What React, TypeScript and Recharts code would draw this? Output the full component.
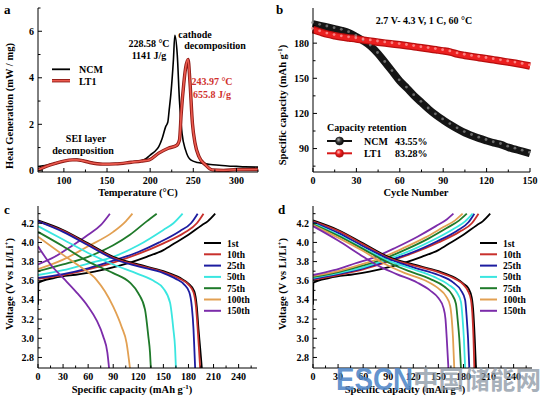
import React from 'react';
import { LineChart, Line, XAxis, YAxis } from 'recharts';

const FONT = '"Liberation Serif", "Times New Roman", serif';

// ---------- Panel a: DSC ----------
const aNcmT = [70, 80, 90, 100, 110, 115, 120, 130, 145, 160, 175, 190, 195, 200, 205, 210, 214, 218, 220.5, 222, 224, 227, 228.58, 231.4, 234, 237, 241, 247, 255, 262, 270, 280, 290, 300, 310, 325];
const aNcmV = [0.18, 0.24, 0.32, 0.41, 0.48, 0.5, 0.48, 0.38, 0.3, 0.31, 0.36, 0.44, 0.52, 0.68, 0.82, 1.04, 1.4, 1.9, 2.1, 2.6, 3.3, 4.8, 5.83, 5.0, 3.0, 1.6, 0.9, 0.47, 0.36, 0.32, 0.27, 0.24, 0.21, 0.19, 0.17, 0.16];
const aLtT = [70, 80, 90, 100, 110, 115, 120, 130, 145, 160, 178, 190, 199, 210, 221, 231, 234, 236, 239, 241, 243.97, 246, 249, 252, 256.6, 264, 272, 285, 300, 325];
const aLtV = [0.04, 0.2, 0.32, 0.42, 0.47, 0.47, 0.45, 0.36, 0.29, 0.3, 0.37, 0.42, 0.47, 0.76, 0.97, 1.1, 1.33, 2.47, 3.76, 4.4, 4.79, 3.9, 2.04, 1.19, 0.61, 0.26, 0.04, 0.02, 0.05, 0.06];

// ---------- Panel b: cycling ----------
const bCycles = [0, 5, 10, 15, 20, 25, 30, 35, 40, 45, 50, 55, 60, 65, 70, 75, 80, 85, 90, 95, 100, 105, 110, 115, 120, 125, 130, 135, 140, 145, 150];
const bNcm = [196.5, 195, 193.6, 192.2, 190.8, 188.8, 185.5, 181.8, 177.3, 171, 163.3, 155.6, 147.7, 141.5, 135, 129.3, 123.6, 118.6, 114.3, 110.3, 106.7, 103.5, 101, 98.7, 96.7, 94.8, 93.3, 91, 89.3, 87.6, 85.8];
const bLt1 = [191.5, 189.5, 187.6, 186.3, 185.2, 184.4, 183.6, 182.6, 181.7, 180.8, 180, 179.3, 178.6, 177.8, 176.9, 176, 175.2, 174.3, 173.4, 172.3, 170.6, 169.5, 168.5, 167.6, 166.7, 165.7, 164.7, 163.8, 162.8, 161.7, 160.5];

// ---------- Cycle labels & colours ----------
const cycleNames = ['1st', '10th', '25th', '50th', '75th', '100th', '150th'];
const cycleColors = ['#000000', '#c8302c', '#1c1ca0', '#3ae6e0', '#1f7a2a', '#e2a052', '#7c2caa'];

// ---------- Panel c: NCM charge/discharge ----------
const cChX = [
  [0, 0.5, 20, 50, 80, 110, 130, 150, 165, 180, 196, 203, 212],
  [0, 30, 60, 90, 120, 150, 175, 190, 198],
  [0, 30, 60, 90, 120, 145, 170, 183, 191],
  [0, 30, 60, 90, 120, 150, 162, 173],
  [0, 30, 60, 90, 110, 130, 142],
  [0, 30, 60, 90, 105, 113],
  [0, 20, 40, 60, 75, 86],
];
const cChV = [
  [3.35, 3.58, 3.63, 3.67, 3.72, 3.79, 3.85, 3.92, 4.0, 4.08, 4.18, 4.22, 4.3],
  [3.62, 3.66, 3.72, 3.79, 3.88, 3.99, 4.1, 4.2, 4.3],
  [3.63, 3.67, 3.73, 3.81, 3.9, 4.0, 4.12, 4.2, 4.3],
  [3.66, 3.71, 3.78, 3.85, 3.97, 4.13, 4.2, 4.3],
  [3.7, 3.77, 3.85, 3.97, 4.08, 4.22, 4.3],
  [3.72, 3.82, 3.96, 4.11, 4.22, 4.3],
  [3.77, 3.85, 3.96, 4.08, 4.18, 4.3],
];
const cDisX = [
  [0, 30, 60, 90, 120, 150, 170, 180, 187, 190, 192, 194, 196],
  [0, 30, 60, 90, 120, 150, 170, 180, 186, 189, 191, 192.5, 194],
  [0, 30, 60, 90, 120, 150, 165, 175, 181, 184, 186, 187, 188],
  [0, 30, 60, 90, 120, 140, 150, 158, 162, 164, 165],
  [0, 30, 60, 90, 110, 120, 128, 132, 134, 135],
  [0, 30, 50, 70, 80, 90, 100, 106, 110],
  [0, 15, 30, 45, 60, 70, 78, 83, 85],
];
const cDisV = [
  [4.23, 4.13, 3.99, 3.85, 3.77, 3.7, 3.63, 3.57, 3.49, 3.33, 3.1, 2.9, 2.69],
  [4.22, 4.12, 3.98, 3.84, 3.76, 3.69, 3.62, 3.56, 3.48, 3.33, 3.1, 2.9, 2.69],
  [4.22, 4.11, 3.97, 3.83, 3.75, 3.68, 3.62, 3.56, 3.48, 3.33, 3.1, 2.9, 2.69],
  [4.17, 4.03, 3.89, 3.77, 3.67, 3.59, 3.52, 3.37, 3.09, 2.9, 2.69],
  [4.11, 3.96, 3.8, 3.68, 3.58, 3.47, 3.3, 3.02, 2.85, 2.69],
  [4.06, 3.87, 3.75, 3.61, 3.49, 3.33, 3.12, 2.95, 2.69],
  [3.96, 3.77, 3.63, 3.49, 3.33, 3.19, 3.02, 2.85, 2.69],
];

// ---------- Panel d: LT1 charge/discharge ----------
const dChX = [
  [0, 0.5, 20, 50, 80, 110, 130, 150, 165, 180, 196, 203, 212],
  [0, 30, 60, 90, 120, 150, 175, 190, 198],
  [0, 30, 60, 90, 120, 148, 172, 186, 193],
  [0, 30, 60, 88, 118, 145, 168, 182, 191],
  [0, 30, 60, 85, 112, 138, 160, 175, 184],
  [0, 30, 58, 82, 108, 134, 156, 170, 179],
  [0, 25, 50, 75, 100, 125, 147, 160, 168],
];
const dChV = [
  [3.35, 3.58, 3.63, 3.67, 3.72, 3.79, 3.85, 3.92, 4.0, 4.08, 4.18, 4.22, 4.3],
  [3.61, 3.66, 3.72, 3.8, 3.89, 4.0, 4.11, 4.2, 4.3],
  [3.62, 3.67, 3.73, 3.81, 3.9, 4.01, 4.12, 4.21, 4.3],
  [3.63, 3.68, 3.74, 3.82, 3.92, 4.03, 4.14, 4.22, 4.3],
  [3.64, 3.69, 3.76, 3.83, 3.93, 4.04, 4.15, 4.23, 4.3],
  [3.65, 3.7, 3.77, 3.84, 3.94, 4.05, 4.16, 4.23, 4.3],
  [3.66, 3.71, 3.78, 3.85, 3.95, 4.06, 4.17, 4.24, 4.3],
];
const dDisX = [
  [0, 30, 60, 90, 120, 150, 170, 180, 186, 190, 192, 193.5, 195],
  [0, 30, 60, 90, 120, 150, 170, 180, 185, 189, 191, 192, 193],
  [0, 30, 60, 90, 120, 150, 168, 177, 182, 184, 185.5, 187],
  [0, 30, 60, 90, 120, 145, 162, 172, 177, 179, 180.5, 182],
  [0, 30, 60, 90, 115, 140, 157, 166, 171, 173, 175, 177],
  [0, 30, 60, 85, 110, 135, 150, 159, 164, 166, 167.5, 169],
  [0, 30, 55, 75, 100, 125, 140, 150, 156, 158.5, 160, 162],
];
const dDisV = [
  [4.23, 4.13, 3.99, 3.85, 3.77, 3.7, 3.63, 3.57, 3.52, 3.42, 3.25, 3.0, 2.69],
  [4.22, 4.12, 3.98, 3.84, 3.76, 3.69, 3.62, 3.56, 3.5, 3.4, 3.2, 3.0, 2.69],
  [4.21, 4.1, 3.96, 3.83, 3.74, 3.66, 3.58, 3.5, 3.4, 3.2, 3.0, 2.69],
  [4.2, 4.08, 3.94, 3.81, 3.72, 3.64, 3.56, 3.48, 3.38, 3.2, 3.0, 2.69],
  [4.19, 4.07, 3.93, 3.79, 3.7, 3.62, 3.54, 3.46, 3.36, 3.2, 3.0, 2.69],
  [4.18, 4.05, 3.91, 3.78, 3.68, 3.6, 3.52, 3.44, 3.34, 3.2, 3.0, 2.69],
  [4.17, 4.02, 3.88, 3.77, 3.67, 3.58, 3.5, 3.42, 3.32, 3.2, 3.0, 2.69],
];

// ---------- Axis ticks ----------
const aXMajor = [100, 150, 200, 250, 300];
const aXMinor = [75, 125, 175, 225, 275, 325];
const aYMajor = [0, 2, 4, 6];
const aYMinor = [1, 3, 5, 7];
const bXMajor = [0, 30, 60, 90, 120, 150];
const bXMinor = [15, 45, 75, 105, 135];
const bYMajor = [90, 120, 150, 180];
const bYMinor = [75, 105, 135, 165, 195];
const cdXMajor = [0, 30, 60, 90, 120, 150, 180, 210, 240];
const cdXMinor = [15, 45, 75, 105, 135, 165, 195, 225, 255];
const cdYMajor = [2.8, 3.0, 3.2, 3.4, 3.6, 3.8, 4.0, 4.2];
const cdYMinor = [2.9, 3.1, 3.3, 3.5, 3.7, 3.9, 4.1, 4.3];

const pts = (xs: number[], ys: number[]) => xs.map((x, i) => ({ x, y: ys[i] }));

const isIn = (arr: number[], v: number) => arr.some((m) => Math.abs(m - v) < 1e-6);

const makeXTick = (majors: number[], fmt?: (v: number) => string) => (props: any) => {
  const { x, y, payload } = props;
  const v = payload.value;
  const major = isIn(majors, v);
  return (
    <g>
      <line x1={x} x2={x} y1={y} y2={y - (major ? 4 : 2.5)} stroke="#000" strokeWidth={1} />
      {major && (
        <text x={x} y={y + 11.5} textAnchor="middle" fontFamily={FONT} fontWeight="bold" fontSize={10} fill="#000">
          {fmt ? fmt(v) : String(v)}
        </text>
      )}
    </g>
  );
};

const makeYTick = (majors: number[], fmt?: (v: number) => string) => (props: any) => {
  const { x, y, payload } = props;
  const v = payload.value;
  const major = isIn(majors, v);
  return (
    <g>
      <line x1={x} x2={x + (major ? 4 : 2.5)} y1={y} y2={y} stroke="#000" strokeWidth={1} />
      {major && (
        <text x={x - 4} y={y + 3.5} textAnchor="end" fontFamily={FONT} fontWeight="bold" fontSize={10} fill="#000">
          {fmt ? fmt(v) : String(v)}
        </text>
      )}
    </g>
  );
};

const fmt1 = (v: number) => v.toFixed(1);

const blackDot = (p: any) => (
  <circle key={`bd${p.index}`} cx={p.cx - 0.6} cy={p.cy - 1.2} r={1.4} fill="#8a8a8a" fillOpacity={0.75} />
);
const redDot = (p: any) => (
  <circle key={`rd${p.index}`} cx={p.cx - 0.6} cy={p.cy - 1.2} r={1.4} fill="#ff9a9a" fillOpacity={0.8} />
);

const frameAxes = (xd: number[], yd: number[]) => [
  <XAxis key="xt" xAxisId="top" orientation="top" type="number" domain={xd} height={0} tick={false} tickLine={false} axisLine={{ stroke: '#000', strokeWidth: 1 }} />,
  <YAxis key="yr" yAxisId="right" orientation="right" type="number" domain={yd} width={0} tick={false} tickLine={false} axisLine={{ stroke: '#000', strokeWidth: 1 }} />,
];

function PanelA() {
  return (
    <LineChart width={272} height={199} margin={{ top: 8, right: 14, bottom: 0, left: 0 }}>
      <XAxis dataKey="x" type="number" domain={[70, 325]} ticks={[...aXMajor, ...aXMinor].sort((a, b) => a - b)} interval={0} height={27} tickSize={0} tickMargin={0} tickLine={false} axisLine={{ stroke: '#000' }} tick={makeXTick(aXMajor)} allowDataOverflow />
      <YAxis type="number" domain={[-0.05, 7]} ticks={[...aYMajor, ...aYMinor].sort((a, b) => a - b)} interval={0} width={38} tickSize={0} tickMargin={0} tickLine={false} axisLine={{ stroke: '#000' }} tick={makeYTick(aYMajor)} allowDataOverflow />
      {frameAxes([70, 325], [-0.05, 7])}
      <Line data={pts(aNcmT, aNcmV)} dataKey="y" type="monotone" stroke="#000" strokeWidth={1.6} dot={false} isAnimationActive={false} />
      <Line data={pts(aLtT, aLtV)} dataKey="y" type="monotone" stroke="#8e1a16" strokeWidth={3.4} dot={false} isAnimationActive={false} />
      <Line data={pts(aLtT, aLtV)} dataKey="y" type="monotone" stroke="#ec5a4e" strokeWidth={1.6} dot={false} isAnimationActive={false} />
    </LineChart>
  );
}

function PanelB() {
  return (
    <LineChart width={272} height={199} margin={{ top: 8, right: 14, bottom: 0, left: 0 }}>
      <XAxis dataKey="x" type="number" domain={[0, 150]} ticks={[...bXMajor, ...bXMinor].sort((a, b) => a - b)} interval={0} height={27} tickSize={0} tickMargin={0} tickLine={false} axisLine={{ stroke: '#000' }} tick={makeXTick(bXMajor)} />
      <YAxis type="number" domain={[70, 210]} ticks={[...bYMajor, ...bYMinor].sort((a, b) => a - b)} interval={0} width={41} tickSize={0} tickMargin={0} tickLine={false} axisLine={{ stroke: '#000' }} tick={makeYTick(bYMajor)} />
      {frameAxes([0, 150], [70, 210])}
      <Line data={pts(bCycles, bNcm)} dataKey="y" type="monotone" stroke="#151515" strokeWidth={7.5} dot={blackDot} isAnimationActive={false} />
      <Line data={pts(bCycles, bLt1)} dataKey="y" type="monotone" stroke="#b80e0e" strokeWidth={7.5} dot={false} isAnimationActive={false} />
      <Line data={pts(bCycles, bLt1)} dataKey="y" type="monotone" stroke="#ec2020" strokeWidth={5} dot={redDot} isAnimationActive={false} />
    </LineChart>
  );
}

function PanelCD({ chX, chV, disX, disV, yW, rightM }: any) {
  return (
    <LineChart width={272} height={199} margin={{ top: 8, right: rightM, bottom: 0, left: 0 }}>
      <XAxis dataKey="x" type="number" domain={[0, 262]} ticks={[...cdXMajor, ...cdXMinor].sort((a, b) => a - b)} interval={0} height={29} tickSize={0} tickMargin={0} tickLine={false} axisLine={{ stroke: '#000' }} tick={makeXTick(cdXMajor)} allowDataOverflow />
      <YAxis type="number" domain={[2.69, 4.38]} ticks={[...cdYMajor, ...cdYMinor].sort((a, b) => a - b)} interval={0} width={yW} tickSize={0} tickMargin={0} tickLine={false} axisLine={{ stroke: '#000' }} tick={makeYTick(cdYMajor, fmt1)} allowDataOverflow />
      {frameAxes([0, 262], [2.69, 4.38])}
      {cycleNames.map((n, i) => (
        <Line key={`ch${n}`} data={pts(chX[i], chV[i])} dataKey="y" type="monotone" stroke={cycleColors[i]} strokeWidth={1.8} dot={false} isAnimationActive={false} />
      ))}
      {cycleNames.map((n, i) => (
        <Line key={`dis${n}`} data={pts(disX[i], disV[i])} dataKey="y" type="monotone" stroke={cycleColors[i]} strokeWidth={1.8} dot={false} isAnimationActive={false} />
      ))}
    </LineChart>
  );
}

const T = (p: any) => <text fontFamily={FONT} fontWeight="bold" fill="#000" {...p} />;

function Overlay() {
  const legendRows = [243, 254.3, 265.6, 276.9, 288.2, 299.5, 310.8];
  return (
    <svg width={544} height={397} style={{ position: 'absolute', left: 0, top: 0, pointerEvents: 'none' }}>
      <defs>
        <radialGradient id="gBlack" cx="38%" cy="35%" r="65%">
          <stop offset="0%" stopColor="#bdbdbd" />
          <stop offset="45%" stopColor="#3a3a3a" />
          <stop offset="100%" stopColor="#050505" />
        </radialGradient>
        <radialGradient id="gRed" cx="38%" cy="35%" r="65%">
          <stop offset="0%" stopColor="#ffc4c4" />
          <stop offset="45%" stopColor="#f02020" />
          <stop offset="100%" stopColor="#a80c0c" />
        </radialGradient>
      </defs>
      {/* panel letters */}
      <T x={4} y={14} fontSize={13}>a</T>
      <T x={276} y={14} fontSize={13}>b</T>
      <T x={4} y={214} fontSize={13}>c</T>
      <T x={278} y={214} fontSize={13}>d</T>

      {/* panel a */}
      <T x={138} y={196} fontSize={10.5} textAnchor="middle">Temperature (°C)</T>
      <T x={13} y={106} fontSize={10.5} textAnchor="middle" transform="rotate(-90 13 106)">Heat Generation (mW / mg)</T>
      <line x1={52} x2={70} y1={69.3} y2={69.3} stroke="#000" strokeWidth={1.8} />
      <line x1={52} x2={70} y1={80.7} y2={80.7} stroke="#8e1a16" strokeWidth={3.4} />
      <line x1={52} x2={70} y1={80.7} y2={80.7} stroke="#ec5a4e" strokeWidth={1.6} />
      <T x={79} y={73} fontSize={10}>NCM</T>
      <T x={79} y={84.5} fontSize={10}>LT1</T>
      <T x={149} y={47} fontSize={10} textAnchor="middle">228.58 °C</T>
      <T x={149} y={59} fontSize={10} textAnchor="middle">1141 J/g</T>
      <T x={195} y={37.5} fontSize={10} textAnchor="middle">cathode</T>
      <T x={215} y={49} fontSize={10} textAnchor="middle">decomposition</T>
      <T x={212} y={84.5} fontSize={10} textAnchor="middle" fill="#d0312d">243.97 °C</T>
      <T x={212} y={97.5} fontSize={10} textAnchor="middle" fill="#d0312d">655.8 J/g</T>
      <T x={86} y={142} fontSize={10} textAnchor="middle">SEI layer</T>
      <T x={83} y={154} fontSize={10} textAnchor="middle">decomposition</T>

      {/* panel b */}
      <T x={416} y={196} fontSize={10.5} textAnchor="middle">Cycle Number</T>
      <T x={286} y={105} fontSize={10.5} textAnchor="middle" transform="rotate(-90 286 105)">
        Specific capacity (mAh g<tspan fontSize={7} dy={-4}>-1</tspan><tspan dy={4}>)</tspan>
      </T>
      <T x={424} y={24} fontSize={10} textAnchor="middle">2.7 V- 4.3 V, 1 C, 60 °C</T>
      <T x={327} y={131} fontSize={10}>Capacity retention</T>
      <line x1={327} x2={352} y1={141} y2={141} stroke="#111" strokeWidth={2} />
      <circle cx={339.5} cy={141} r={4} fill="url(#gBlack)" stroke="#111" strokeWidth={0.6} />
      <line x1={327} x2={352} y1={153.3} y2={153.3} stroke="#d81818" strokeWidth={2} />
      <circle cx={339.5} cy={153.3} r={4} fill="url(#gRed)" stroke="#b01010" strokeWidth={0.6} />
      <T x={364} y={144.5} fontSize={10}>NCM</T>
      <T x={395} y={144.5} fontSize={10}>43.55%</T>
      <T x={364} y={157} fontSize={10}>LT1</T>
      <T x={395} y={157} fontSize={10}>83.28%</T>

      {/* panel c */}
      <T x={132} y={393} fontSize={10.5} textAnchor="middle">
        Specific capacity (mAh g<tspan fontSize={7} dy={-4}>-1</tspan><tspan dy={4}>)</tspan>
      </T>
      <T x={13} y={284} fontSize={10.5} textAnchor="middle" transform="rotate(-90 13 284)">
        Voltage (V vs Li/Li<tspan fontSize={7} dy={-4}>+</tspan><tspan dy={4}>)</tspan>
      </T>
      {cycleNames.map((n, i) => (
        <g key={`lc${n}`}>
          <line x1={204} x2={221} y1={legendRows[i]} y2={legendRows[i]} stroke={cycleColors[i]} strokeWidth={2} />
          <T x={227} y={legendRows[i] + 3.5} fontSize={9.5}>{n}</T>
        </g>
      ))}

      {/* panel d */}
      <T x={405} y={393} fontSize={10.5} textAnchor="middle">
        Specific capacity (mAh g<tspan fontSize={7} dy={-4}>-1</tspan><tspan dy={4}>)</tspan>
      </T>
      <T x={286} y={284} fontSize={10.5} textAnchor="middle" transform="rotate(-90 286 284)">
        Voltage (V vs Li/Li<tspan fontSize={7} dy={-4}>+</tspan><tspan dy={4}>)</tspan>
      </T>
      {cycleNames.map((n, i) => (
        <g key={`ld${n}`}>
          <line x1={480} x2={497} y1={legendRows[i]} y2={legendRows[i]} stroke={cycleColors[i]} strokeWidth={2} />
          <T x={503} y={legendRows[i] + 3.5} fontSize={9.5}>{n}</T>
        </g>
      ))}

      {/* watermark */}
      <text x={336} y={390} fontFamily="'Liberation Sans', Arial, sans-serif" fontWeight="bold" fontSize={31} fill="#4f86c8" fillOpacity={0.9} textLength={77} lengthAdjust="spacingAndGlyphs">ESCN</text>
      <text x={413} y={389} fontFamily="'Noto Sans CJK SC', sans-serif" fontWeight="bold" fontSize={25} fill="#8a96a4" fillOpacity={0.75} textLength={128} lengthAdjust="spacingAndGlyphs">中国储能网</text>
    </svg>
  );
}

export default function App() {
  return (
    <div style={{ position: 'absolute', left: 0, top: 0, width: 544, height: 397, background: '#fff', overflow: 'hidden' }}>
      <div style={{ position: 'absolute', left: 0, top: 0 }}>
        <PanelA />
      </div>
      <div style={{ position: 'absolute', left: 272, top: 0 }}>
        <PanelB />
      </div>
      <div style={{ position: 'absolute', left: 0, top: 198 }}>
        <PanelCD chX={cChX} chV={cChV} disX={cDisX} disV={cDisV} yW={38} rightM={15} />
      </div>
      <div style={{ position: 'absolute', left: 272, top: 198 }}>
        <PanelCD chX={dChX} chV={dChV} disX={dDisX} disV={dDisV} yW={41} rightM={12} />
      </div>
      <Overlay />
    </div>
  );
}
